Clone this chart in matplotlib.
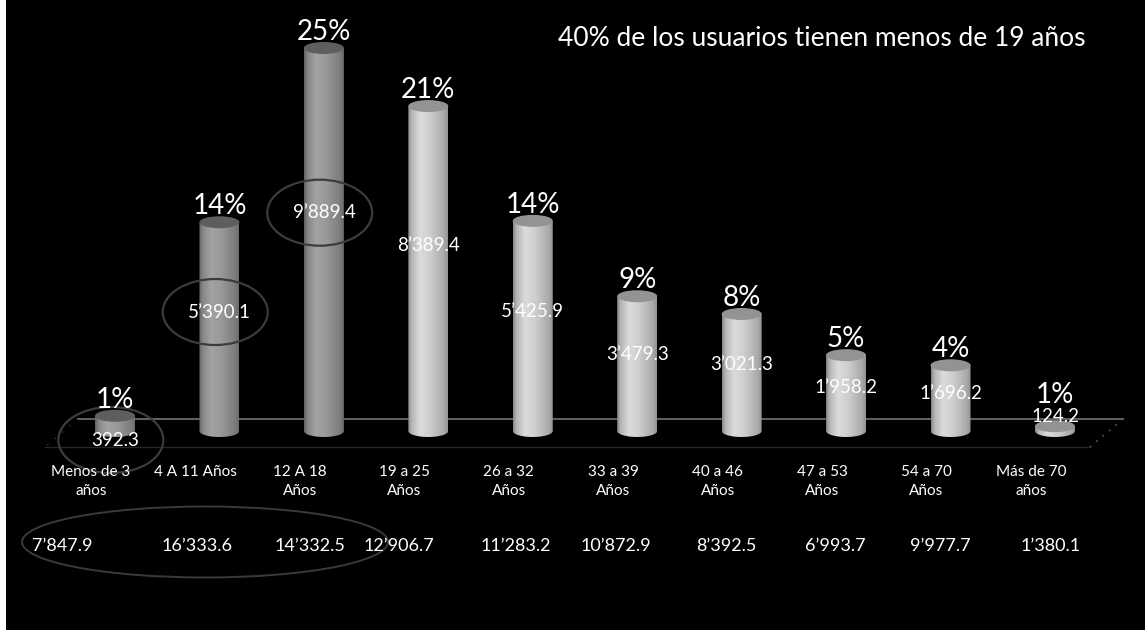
import numpy as np
import matplotlib
matplotlib.use("Agg")
import matplotlib.pyplot as plt
from matplotlib.patches import Ellipse, PathPatch, Rectangle
from matplotlib.path import Path

plt.rcParams["font.family"] = ["Lato", "DejaVu Sans"]

# Internet users by age band (thousands)
CATEGORIES = ["Menos de 3\naños", "4 A 11 Años", "12 A 18\nAños", "19 a 25\nAños",
              "26 a 32\nAños", "33 a 39\nAños", "40 a 46\nAños", "47 a 53\nAños",
              "54 a 70\nAños", "Más de 70\naños"]
USERS = [392.3, 5390.1, 9889.4, 8389.4, 5425.9, 3479.3, 3021.3, 1958.2, 1696.2, 124.2]
SHARE = [1, 14, 25, 21, 14, 9, 8, 5, 4, 1]
POPULATION = [7847.9, 16333.6, 14332.5, 12906.7, 11283.2, 10872.9, 8392.5, 6993.7,
              9977.7, 1380.1]
UNDER_19 = [0, 1, 2]
TITLE = "40% de los usuarios tienen menos de 19 años"

W_PX, H_PX = 1145, 630
X0_PX, DX_PX = 115, 104.44          # first bar centre and bar spacing
BASE_ROW, TOP_ROW = 431, 48          # baseline row and row of the tallest bar
BAR_W_PX, CAP_H_PX = 40, 12


def fmt(v):
    return f"{v:,.1f}".replace(",", "\u2019")


fig = plt.figure(figsize=(W_PX / 100, H_PX / 100), dpi=100, facecolor="black")
ax = fig.add_axes([0, 0, 1, 1])
ax.set_axis_off()

upp = max(USERS) / (BASE_ROW - TOP_ROW)   # data units per pixel (vertical)
ax.set_xlim(-X0_PX / DX_PX, (W_PX - X0_PX) / DX_PX)
ax.set_ylim(-(H_PX - BASE_ROW) * upp, BASE_ROW * upp)


def row(r):
    return (BASE_ROW - r) * upp


def col(c):
    return (c - X0_PX) / DX_PX


bw = BAR_W_PX / DX_PX
cap_h = CAP_H_PX * upp

# floor of the 3D plot
ax.plot([col(78), col(1123)], [row(419), row(419)], color="#6a6a6a", lw=1.3, zorder=1)
ax.plot([col(45), col(1090)], [row(447), row(447)], color="#262626", lw=1.0, zorder=1)
ax.plot([col(1123), col(1090)], [row(419), row(447)], color="#5a5a5a", lw=1.2,
        ls=(0, (1, 4)), zorder=1)
ax.plot([col(78), col(45)], [row(419), row(447)], color="#3a3a3a", lw=1.0,
        ls=(0, (1, 6)), zorder=1)

# horizontal shading profile of a cylinder
t = np.linspace(0, 1, 64)
profile = np.interp(t, [0, 0.08, 0.3, 0.55, 0.9, 1], [0.35, 0.7, 1.0, 0.9, 0.62, 0.45])

ang = np.linspace(np.pi, 2 * np.pi, 40)
for i, v in enumerate(USERS):
    dark = i in UNDER_19
    lo, hi = (0.25, 0.64) if dark else (0.35, 0.86)
    shade = lo + (hi - lo) * profile
    left, right = i - bw / 2, i + bw / 2

    verts = [(left, v), (left, 0)]
    verts += list(zip(i + bw / 2 * np.cos(ang), cap_h / 2 * np.sin(ang)))
    verts += [(right, 0), (right, v), (left, v)]
    body = PathPatch(Path(verts, closed=True), facecolor="none", edgecolor="none")
    ax.add_patch(body)
    img = ax.imshow(shade[None, :], cmap="gray", vmin=0, vmax=1, aspect="auto",
                    extent=(left, right, -cap_h / 2, v), interpolation="bicubic",
                    zorder=2)
    img.set_clip_path(body)

    cap_color = "#5e5e5e" if dark else "#939393"
    ax.add_patch(Ellipse((i, v), bw, cap_h, facecolor=cap_color, edgecolor="none",
                         zorder=3))

    # user count inside the cylinder
    if i == 0:
        y_lab = -9 * upp
    elif v < 500:
        y_lab = 14 * upp
    else:
        y_lab = 0.57 * v
    ax.text(i, y_lab, fmt(v), color="white", fontsize=13.5, ha="center", va="center",
            zorder=5)
    if i in UNDER_19:
        ax.add_patch(Ellipse((i - 0.04, y_lab), 105 / DX_PX, 66 * upp, facecolor="none",
                             edgecolor="#3c3c3c", lw=1.6, zorder=4))

    # share of users above the cylinder, clear of the count on tiny bars
    y_share = max(v + cap_h / 2 + 2 * upp, y_lab + 14 * upp)
    ax.text(i, y_share, f"{SHARE[i]}%", color="white", fontsize=20,
            ha="center", va="baseline", zorder=5)

    # age band under the floor
    ax.text(i - 24 / DX_PX, row(465), CATEGORIES[i], color="white", fontsize=11,
            ha="center", va="top", linespacing=1.45, zorder=5)

# population per age band
POP_NUDGE_PX = [-53, -22, -14, -29, -17, -21, -15, -11, -10, -4]
for i, p in enumerate(POPULATION):
    ax.text(i + POP_NUDGE_PX[i] / DX_PX, row(546), fmt(p), color="white", fontsize=13,
            ha="center", va="center", zorder=5)

# group the under-19 population
ax.add_patch(Ellipse((col(205), row(542)), 366 / DX_PX, 71 * upp, facecolor="none",
                     edgecolor="#3a3a3a", lw=1.4, zorder=4))

fig.text(822 / W_PX, 1 - 38 / H_PX, TITLE, color="white", fontsize=19,
         ha="center", va="center")

# thin white strip on the left edge
fig.patches.append(Rectangle((0, 0), 6 / W_PX, 1, transform=fig.transFigure,
                             facecolor="white", edgecolor="none"))

fig.savefig("out.png", dpi=100, facecolor=fig.get_facecolor())
